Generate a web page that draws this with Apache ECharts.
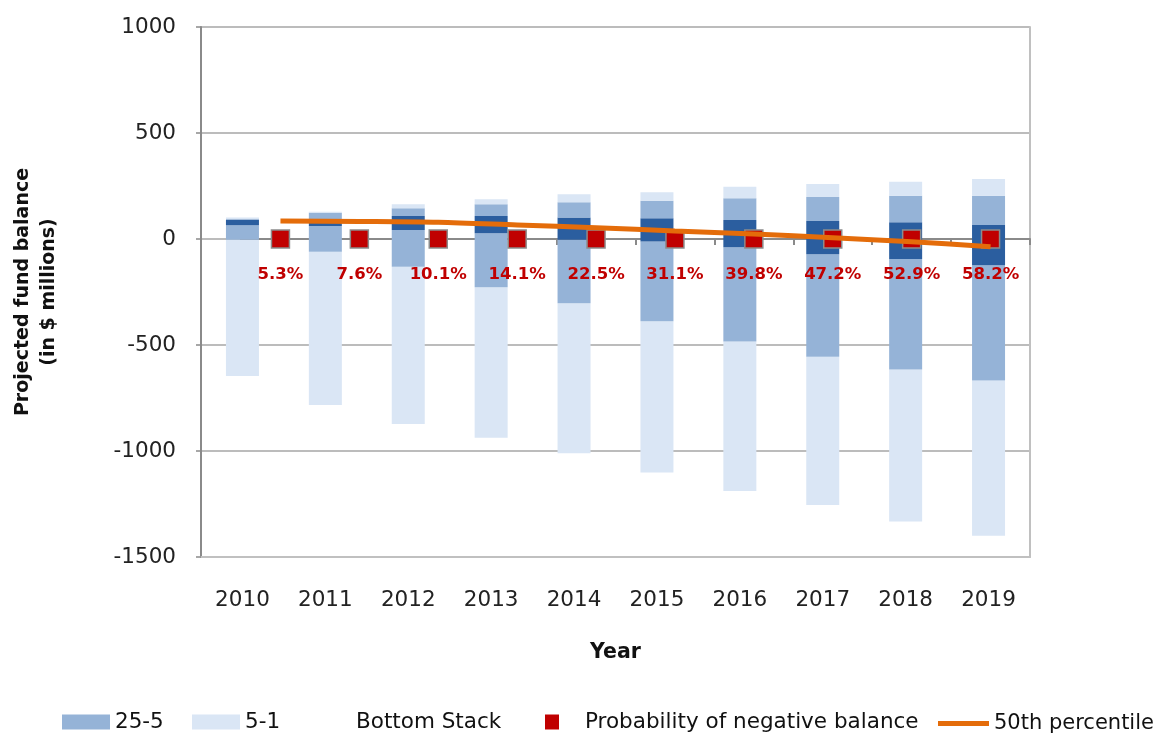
<!DOCTYPE html>
<html>
<head>
<meta charset="utf-8">
<script src="https://cdn.jsdelivr.net/npm/echarts@6/dist/echarts.min.js"></script>
<style>
  html, body { margin: 0; padding: 0; background: #ffffff; }
  #chart { width: 1160px; height: 735px; }
</style>
</head>
<body>
<div id="chart"></div>
<script>
// Projection years
const years = ['2010', '2011', '2012', '2013', '2014', '2015', '2016', '2017', '2018', '2019'];

// Percentile bounds of the projected fund balance ($ millions)
const p1  = [-646, -783, -873, -937, -1011, -1101, -1189, -1255, -1332, -1400];
const p5  = [-3, -60, -131, -228, -303, -388, -484, -555, -615, -668];
const p25 = [65, 61, 42, 27, -3, -12, -39, -72, -94, -124];
const p75 = [92, 77, 108, 108, 102, 98, 90, 85, 79, 66];
const p95 = [93, 124, 145, 164, 173, 181, 192, 198, 204, 204];
const p99 = [101, 129, 164, 187, 211, 220, 247, 259, 270, 283];

// Median path (50th percentile)
const median = [85, 83, 79, 66, 53, 38, 24, 6, -13, -36];

// Probability of a negative balance (%), shown as markers on the zero line
const negProb = [5.3, 7.6, 10.1, 14.1, 22.5, 31.1, 39.8, 47.2, 52.9, 58.2];
const markerLevel = [0, 0, 0, 0, 0, 0, 0, 0, 0, 0];

// Y axis ticks
const yMin = -1500, yMax = 1000, yStep = 500;

const LIGHT = '#DAE6F5';
const MID = '#95B3D7';
const DARK = '#2B5E9F';
const RED = '#C00000';
const ORANGE = '#E46C0A';
const AXIS_GREY = '#8a8a8a';
const BORDER_GREY = '#c0c0c0';

const diff = (a, b) => a.map((v, i) => v - b[i]);

const bandSeries = (name, data, color) => ({
  name: name,
  type: 'bar',
  stack: 'band',
  stackStrategy: 'all',
  xAxisIndex: 0,
  yAxisIndex: 0,
  barWidth: 33,
  data: data,
  itemStyle: { color: color },
  emphasis: { disabled: true },
  z: 2
});

const legendBase = {
  top: 711,
  padding: 0,
  itemWidth: 48,
  itemHeight: 15,
  textStyle: { fontFamily: 'DejaVu Sans', fontSize: 21.5, color: '#111' },
  selectedMode: false
};

const chart = echarts.init(document.getElementById('chart'));
chart.setOption({
  animation: false,
  backgroundColor: '#ffffff',
  grid: [
    { left: 201, right: 130, top: 27, bottom: 178 },
    { left: 241, right: 130, top: 27, bottom: 178 }
  ],
  legend: [
    Object.assign({}, legendBase, { left: 62, data: [{ name: '25-5', icon: 'rect' }] }),
    Object.assign({}, legendBase, { left: 192, data: [{ name: '5-1', icon: 'rect' }] }),
    Object.assign({}, legendBase, { left: 303, data: [{ name: 'Bottom Stack', icon: 'rect' }] }),
    Object.assign({}, legendBase, {
      left: 545, itemWidth: 14, itemHeight: 15,
      textStyle: Object.assign({}, legendBase.textStyle, { padding: [0, 0, 0, 21] }),
      data: [{ name: 'Probability of negative balance', icon: 'rect', itemStyle: { borderWidth: 0 } }]
    }),
    Object.assign({}, legendBase, {
      left: 938, top: 713, itemWidth: 51, itemHeight: 5,
      textStyle: Object.assign({}, legendBase.textStyle, { fontSize: 21 }),
      data: [{ name: '50th percentile', icon: 'rect' }]
    })
  ],
  xAxis: [
    {
      type: 'category',
      gridIndex: 0,
      data: years,
      axisLine: { onZero: false, lineStyle: { color: BORDER_GREY, width: 2 } },
      axisTick: { show: false },
      axisLabel: { fontFamily: 'DejaVu Sans', fontSize: 21.5, color: '#222', margin: 32 },
      name: 'Year',
      nameLocation: 'middle',
      nameGap: 85,
      nameTextStyle: { fontFamily: 'DejaVu Sans', fontSize: 20.5, fontWeight: 'bold', color: '#111' }
    },
    {
      type: 'category',
      gridIndex: 1,
      data: years,
      axisLine: { onZero: true, lineStyle: { color: AXIS_GREY, width: 2 } },
      axisTick: { show: true, length: 6, lineStyle: { color: AXIS_GREY, width: 2 } },
      axisLabel: { show: false },
      splitLine: { show: false }
    }
  ],
  yAxis: [
    {
      type: 'value',
      gridIndex: 0,
      min: yMin,
      max: yMax,
      interval: yStep,
      axisLine: { show: true, lineStyle: { color: AXIS_GREY, width: 2 } },
      axisTick: { show: true, length: 5, lineStyle: { color: AXIS_GREY, width: 1.5 } },
      axisLabel: {
        fontFamily: 'DejaVu Sans', fontSize: 21.5, color: '#222', margin: 25,
        formatter: (v) => String(v)
      },
      splitLine: { lineStyle: { color: '#a6a6a6', width: 1.5 } },
      name: 'Projected fund balance\n(in $ millions)',
      nameLocation: 'middle',
      nameRotate: 90,
      nameGap: 139,
      nameTextStyle: { fontFamily: 'DejaVu Sans', fontSize: 19, fontWeight: 'bold', color: '#111', lineHeight: 26 }
    },
    {
      type: 'value',
      gridIndex: 1,
      position: 'right',
      min: yMin,
      max: yMax,
      interval: yStep,
      axisLine: { show: true, lineStyle: { color: BORDER_GREY, width: 2 } },
      axisTick: { show: false },
      axisLabel: { show: false },
      splitLine: { show: false }
    }
  ],
  series: [
    bandSeries('Bottom Stack', p1, 'rgba(0,0,0,0)'),
    bandSeries('5-1', diff(p5, p1), LIGHT),
    bandSeries('25-5', diff(p25, p5), MID),
    bandSeries('75-25', diff(p75, p25), DARK),
    bandSeries('95-75', diff(p95, p75), MID),
    bandSeries('99-95', diff(p99, p95), LIGHT),
    {
      name: 'Probability of negative balance',
      type: 'scatter',
      xAxisIndex: 1,
      yAxisIndex: 1,
      symbol: 'rect',
      symbolSize: 18,
      data: markerLevel.map((v, i) => ({ value: v, prob: negProb[i] })),
      itemStyle: { color: RED, borderColor: '#8c8c8c', borderWidth: 1.5, opacity: 1 },
      label: {
        show: true,
        position: 'bottom',
        distance: 17,
        formatter: (p) => negProb[p.dataIndex].toFixed(1) + '%',
        fontFamily: 'DejaVu Sans',
        fontSize: 16.5,
        fontWeight: 'bold',
        color: RED
      },
      emphasis: { disabled: true },
      z: 4
    },
    {
      name: '50th percentile',
      type: 'line',
      xAxisIndex: 1,
      yAxisIndex: 1,
      data: median,
      symbol: 'none',
      smooth: 0.3,
      lineStyle: { color: ORANGE, width: 5 },
      itemStyle: { color: ORANGE },
      emphasis: { disabled: true },
      z: 5
    }
  ]
});
</script>
</body>
</html>
